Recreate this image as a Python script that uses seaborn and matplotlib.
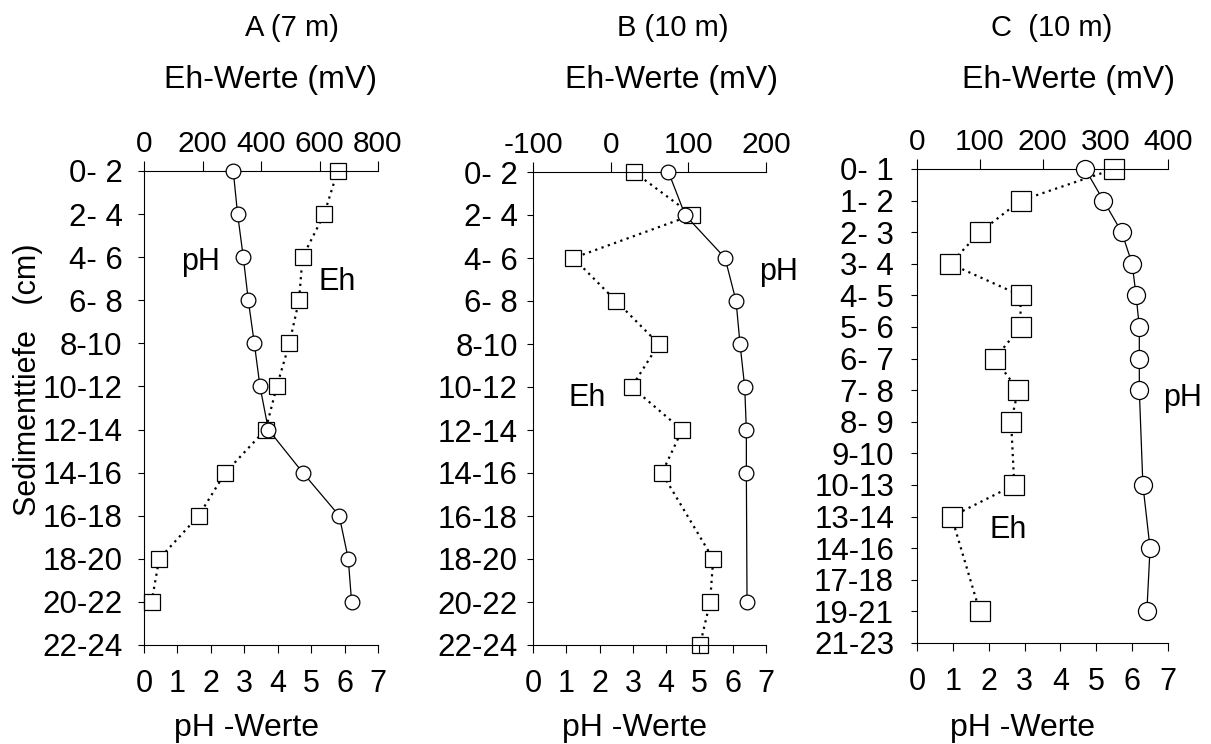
import numpy as np
import pandas as pd
import matplotlib
matplotlib.use("Agg")
import matplotlib.pyplot as plt
import seaborn as sns

sns.set_style("ticks", {"axes.edgecolor": "black", "text.color": "black",
                        "xtick.color": "black", "ytick.color": "black",
                        "axes.labelcolor": "black"})
plt.rcParams["font.family"] = ["Liberation Sans", "DejaVu Sans"]
plt.rcParams["axes.unicode_minus"] = False

nan = np.nan

# Station A (7 m)
depth_a = ["0- 2", "2- 4", "4- 6", "6- 8", "8-10", "10-12", "12-14",
           "14-16", "16-18", "18-20", "20-22", "22-24"]
ph_a = [2.67, 2.80, 2.97, 3.12, 3.30, 3.47, 3.72, 4.75, 5.84, 6.11, 6.21, nan]
eh_a = [662, 616, 542, 530, 497, 454, 416, 278, 187, 52, 26, nan]

# Station B (10 m)
depth_b = ["0- 2", "2- 4", "4- 6", "6- 8", "8-10", "10-12", "12-14",
           "14-16", "16-18", "18-20", "20-22", "22-24"]
ph_b = [4.07, 4.57, 5.77, 6.10, 6.22, 6.36, 6.41, 6.41, nan, nan, 6.43, nan]
eh_b = [30, 105, -48, 7, 62, 27, 92, 66, nan, 132, 128, 115]

# Station C (10 m)
depth_c = ["0- 1", "1- 2", "2- 3", "3- 4", "4- 5", "5- 6", "6- 7", "7- 8",
           "8- 9", "9-10", "10-13", "13-14", "14-16", "17-18", "19-21", "21-23"]
ph_c = [4.69, 5.20, 5.71, 6.00, 6.11, 6.20, 6.20, 6.20, nan, nan, 6.30, nan,
        6.50, nan, 6.41, nan]
eh_c = [314, 165, 100, 53, 165, 165, 124, 161, 150, nan, 155, 55, nan, nan,
        100, nan]

titles = ["A (7 m)", "B (10 m)", "C  (10 m)"]
eh_ticks_a = [0, 200, 400, 600, 800]
eh_ticks_b = [-100, 0, 100, 200]
eh_ticks_c = [0, 100, 200, 300, 400]
ph_ticks = [0, 1, 2, 3, 4, 5, 6, 7]

W, H = 1211, 744
fig = plt.figure(figsize=(W / 100, H / 100), dpi=100)


def rect(x0, x1, y0, y1):
    return [x0 / W, 1 - y1 / H, (x1 - x0) / W, (y1 - y0) / H]


def draw_panel(r, depth, ph, eh, eh_ticks, ms_o, ms_s, ypad, ph_txt, eh_txt):
    ax = fig.add_axes(r)
    top = ax.twiny()
    df = pd.DataFrame({"Tiefe": depth, "pos": np.arange(len(depth)),
                       "pH": ph, "Eh": eh})

    sns.lineplot(data=df.dropna(subset=["Eh"]), x="Eh", y="pos", sort=False,
                 estimator=None, ax=top, color="black", lw=1.6,
                 linestyle=(0, (1, 2)), marker="s", markersize=ms_s,
                 markerfacecolor="white", markeredgecolor="black",
                 markeredgewidth=0.9, clip_on=False)
    sns.lineplot(data=df.dropna(subset=["pH"]), x="pH", y="pos", sort=False,
                 estimator=None, ax=ax, color="black", lw=0.9,
                 marker="o", markersize=ms_o,
                 markerfacecolor="white", markeredgecolor="black",
                 markeredgewidth=0.9, clip_on=False)

    ax.set_zorder(top.get_zorder() + 1)
    ax.patch.set_visible(False)

    n = len(depth)
    ax.set_ylim(n - 1, 0)
    ax.set_yticks(np.arange(n))
    ax.set_yticklabels(depth)
    ax.set_xlim(0, 7)
    ax.set_xticks(ph_ticks)
    top.set_xlim(eh_ticks[0], eh_ticks[-1])
    top.set_xticks(eh_ticks)

    for a in (ax, top):
        a.set_xlabel("")
        a.set_ylabel("")

    ax.spines["right"].set_visible(False)
    ax.spines["top"].set_visible(False)
    for s in ("left", "right", "bottom"):
        top.spines[s].set_visible(False)
    for sp in list(ax.spines.values()) + list(top.spines.values()):
        sp.set_linewidth(0.8)

    ax.tick_params(axis="x", direction="out", length=6, width=0.8, pad=11,
                   labelsize=22)
    ax.tick_params(axis="y", direction="out", length=4.5, width=0.8,
                   pad=ypad, labelsize=22.5)
    top.tick_params(axis="x", direction="out", length=7, width=0.8, pad=2,
                    labelsize=21.5)
    top.tick_params(axis="y", left=False, right=False,
                    labelleft=False, labelright=False)

    ax.text(*ph_txt, "pH", fontsize=22, ha="center", va="center", clip_on=False)
    ax.text(*eh_txt, "Eh", fontsize=22, ha="center", va="center", clip_on=False)
    return ax


draw_panel(rect(144, 378, 171, 645), depth_a, ph_a, eh_a, eh_ticks_a,
           10.6, 11.5, 11, (1.68, 2.11), (5.77, 2.58))
draw_panel(rect(533, 766, 172, 645), depth_b, ph_b, eh_b, eh_ticks_b,
           10.6, 11.5, 6.5, (7.37, 2.33), (1.62, 5.25))
draw_panel(rect(917, 1168, 169, 643), depth_c, ph_c, eh_c, eh_ticks_c,
           13, 13.7, 12, (7.40, 7.25), (2.54, 11.42))

# panel headings and axis captions
for (x, title), xe in zip([(292, titles[0]), (673, titles[1]), (1052, titles[2])],
                          [271, 672, 1069]):
    fig.text(x / W, 1 - 28 / H, title, fontsize=21, ha="center", va="center")
    fig.text(xe / W, 1 - 80 / H, "Eh-Werte (mV)", fontsize=23, ha="center",
             va="center")
for x in (247, 635, 1023):
    fig.text(x / W, 1 - 728 / H, "pH -Werte", fontsize=23, ha="center",
             va="center")
fig.text(28 / W, 1 - 380 / H, "Sedimenttiefe   (cm)", fontsize=22,
         rotation=90, ha="center", va="center")

fig.savefig("out.png", dpi=100, facecolor="white")
